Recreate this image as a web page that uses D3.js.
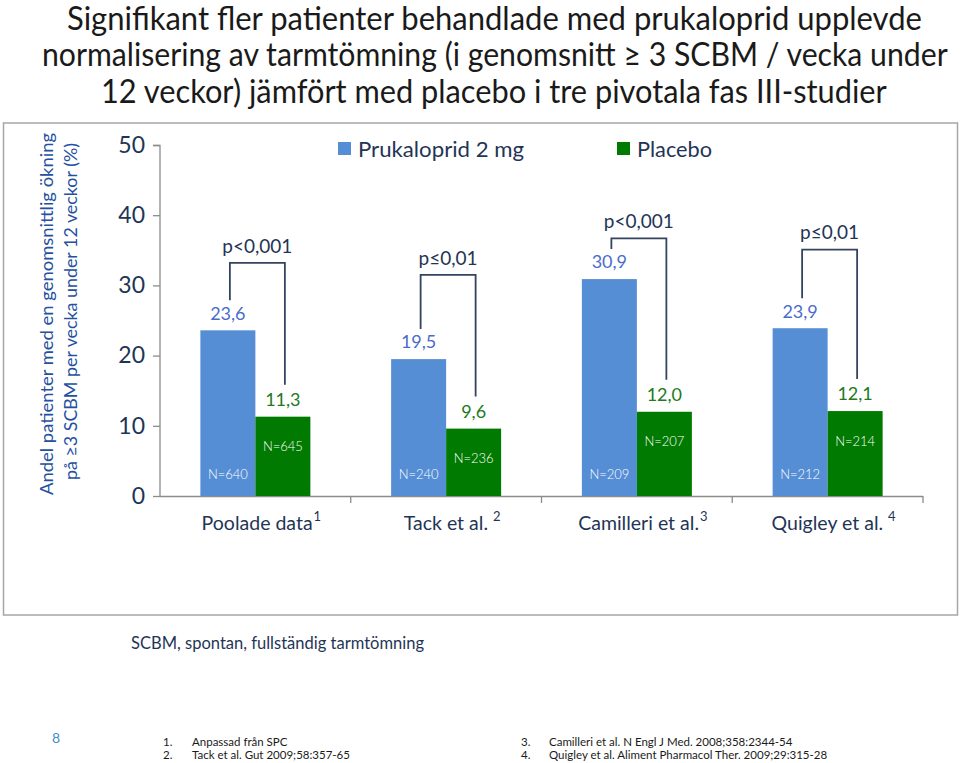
<!DOCTYPE html>
<html><head><meta charset="utf-8">
<script src="https://cdn.jsdelivr.net/npm/d3@7"></script>
<style>
html,body{margin:0;padding:0;background:#fff;}
svg{display:block;font-family:Lato,"Open Sans",sans-serif;}
</style></head>
<body>
<svg id="c" width="960" height="763"></svg>
<script>
// ---- data ----
const categories = ["Poolade data", "Tack et al.", "Camilleri et al.", "Quigley et al."];
const superscripts = ["1", "2", "3", "4"];
const seriesNames = ["Prukaloprid 2 mg", "Placebo"];
const prukalopridValues = [23.6, 19.5, 30.9, 23.9];
const placeboValues = [11.3, 9.6, 12.0, 12.1];
const prukalopridN = ["N=640", "N=240", "N=209", "N=212"];
const placeboN = ["N=645", "N=236", "N=207", "N=214"];
const pValues = ["p<0,001", "p\u22640,01", "p<0,001", "p\u22640,01"];
const bracketLevels = [33.2, 31.5, 36.7, 35.1];
const yTicks = [0, 10, 20, 30, 40, 50];
const titleLines = [
  "Signifikant fler patienter behandlade med prukaloprid upplevde",
  "normalisering av tarmtömning (i genomsnitt \u2265 3 SCBM / vecka under",
  "12 veckor) jämfört med placebo i tre pivotala fas III-studier"
];
const yLabelLines = ["Andel patienter med en genomsnittlig ökning", "på \u22653 SCBM per vecka under 12 veckor (%)"];
const footnote = "SCBM, spontan, fullständig tarmtömning";
const pageNumber = "8";
const refsLeft = [["1.", "Anpassad från SPC"], ["2.", "Tack et al. Gut 2009;58:357-65"]];
const refsRight = [["3.", "Camilleri et al. N Engl J Med. 2008;358:2344-54"], ["4.", "Quigley et al. Aliment Pharmacol Ther. 2009;29:315-28"]];

// ---- styling ----
const blue = "#558ED5", green = "#007A00";
const blueText = "#4A6CCB", greenText = "#217A21";
const navy = "#1F3556";

const svg = d3.select("#c");

// Title (horizontally condensed via a scale transform to mimic the narrow original face)
const titleY = [30, 66, 103];
const titleW = [855, 906, 786];
const titleX = [67, 42, 101];
titleLines.forEach((t, i) => {
  const el = svg.append("text").attr("x", 0).attr("y", 0)
    .attr("font-size", 32).attr("fill", "#1a1a1a").text(t);
  const nat = el.node().getComputedTextLength();
  const s = titleW[i] / nat;
  el.attr("transform", `translate(${titleX[i]},${titleY[i]}) scale(${s},1)`);
});

// Frame
svg.append("rect").attr("x", 3.5).attr("y", 123).attr("width", 954).attr("height", 492)
  .attr("fill", "none").attr("stroke", "#a6a6a6").attr("stroke-width", 1.5);

// Scales
const x0 = d3.scaleBand().domain(categories).range([160, 923]).paddingInner(0).paddingOuter(0);
const y = d3.scaleLinear().domain([0, 50]).range([496, 145]);
const barW = 55;

// Y axis
const yAxis = svg.append("g").attr("transform", "translate(160,0)")
  .call(d3.axisLeft(y).tickValues(yTicks).tickSize(7).tickPadding(8));
yAxis.select(".domain").attr("stroke", "#8c8c8c").attr("stroke-width", 1.3).attr("d", "M-7,145.5H0V496.5");
yAxis.selectAll(".tick line").attr("stroke", "#8c8c8c").attr("stroke-width", 1.3);
yAxis.selectAll(".tick text").attr("font-size", 23).attr("fill", navy).attr("font-family", "Lato, sans-serif");

// X axis
const xAxis = svg.append("g").attr("transform", "translate(0,496)");
xAxis.append("line").attr("x1", 160).attr("x2", 923).attr("y1", 0.5).attr("y2", 0.5)
  .attr("stroke", "#8c8c8c").attr("stroke-width", 1.3);
const bounds = categories.map(c => x0(c) + x0.bandwidth());
xAxis.selectAll("line.tk").data(bounds).join("line").attr("class", "tk")
  .attr("x1", d => d).attr("x2", d => d).attr("y1", 0).attr("y2", 7)
  .attr("stroke", "#8c8c8c").attr("stroke-width", 1.3);

// Category labels
categories.forEach((c, i) => {
  const cx = x0(c) + x0.bandwidth() / 2 + 6;
  const t = svg.append("text").attr("x", cx).attr("y", 530).attr("text-anchor", "middle")
    .attr("font-size", 19.5).attr("fill", navy);
  t.append("tspan").text(c);
  t.append("tspan").attr("dx", (i === 1 || i === 3) ? 5 : 1).attr("dy", -9).attr("font-size", 13).text(superscripts[i]);
});

// Bars
const data = categories.map((c, i) => ({c, i, p: prukalopridValues[i], q: placeboValues[i]}));
const cxOf = d => x0(d.c) + x0.bandwidth() / 2;

svg.selectAll("rect.bp").data(data).join("rect").attr("class", "bp")
  .attr("x", d => cxOf(d) - barW).attr("width", barW)
  .attr("y", d => y(d.p)).attr("height", d => y(0) - y(d.p)).attr("fill", blue);
svg.selectAll("rect.bq").data(data).join("rect").attr("class", "bq")
  .attr("x", d => cxOf(d)).attr("width", barW)
  .attr("y", d => y(d.q)).attr("height", d => y(0) - y(d.q)).attr("fill", green);

// Value labels
const fmt = v => d3.format(".1f")(v).replace(".", ",");
svg.selectAll("text.vp").data(data).join("text").attr("class", "vp")
  .attr("x", d => cxOf(d) - barW / 2).attr("y", d => y(d.p) - 17).attr("dy", "0.35em")
  .attr("text-anchor", "middle").attr("font-size", 18).attr("fill", blueText).text(d => fmt(d.p));
svg.selectAll("text.vq").data(data).join("text").attr("class", "vq")
  .attr("x", d => cxOf(d) + barW / 2).attr("y", d => y(d.q) - 17).attr("dy", "0.35em")
  .attr("text-anchor", "middle").attr("font-size", 18).attr("fill", greenText).text(d => fmt(d.q));

// N labels
svg.selectAll("text.np").data(data).join("text").attr("class", "np")
  .attr("x", d => cxOf(d) - barW / 2).attr("y", 474).attr("dy", "0.35em")
  .attr("text-anchor", "middle").attr("font-size", 13).attr("font-weight", 300).attr("fill", "#fff").text(d => prukalopridN[d.i]);
svg.selectAll("text.nq").data(data).join("text").attr("class", "nq")
  .attr("x", d => cxOf(d) + barW / 2).attr("y", d => y(d.q) + 30).attr("dy", "0.35em")
  .attr("text-anchor", "middle").attr("font-size", 13).attr("font-weight", 300).attr("fill", "#fff").text(d => placeboN[d.i]);

// Brackets
svg.selectAll("path.br").data(data).join("path").attr("class", "br")
  .attr("fill", "none").attr("stroke", "#34445e").attr("stroke-width", 1.8)
  .attr("d", d => {
    const lx = cxOf(d) - barW / 2 + 2, rx = cxOf(d) + barW / 2 + 2;
    const top = y(bracketLevels[d.i]);
    const lb = y(d.p) - 30, rb = y(d.q) - 32;
    return `M${lx},${lb}V${top}H${rx}V${rb}`;
  });
svg.selectAll("text.pv").data(data).join("text").attr("class", "pv")
  .attr("x", d => cxOf(d) + 2).attr("y", d => y(bracketLevels[d.i]) - 17).attr("dy", "0.35em")
  .attr("text-anchor", "middle").attr("font-size", 19).attr("fill", navy).text(d => pValues[d.i]);

// Legend
const legend = [{name: seriesNames[0], color: blue, x: 338, w: 166}, {name: seriesNames[1], color: green, x: 617, w: 75}];
legend.forEach(l => {
  svg.append("rect").attr("x", l.x).attr("y", 142).attr("width", 13).attr("height", 13).attr("fill", l.color);
  svg.append("text").attr("x", l.x + 20).attr("y", 157).attr("font-size", 22).attr("fill", navy)
    .attr("textLength", l.w).attr("lengthAdjust", "spacingAndGlyphs").text(l.name);
});

// Y label
yLabelLines.forEach((t, i) => {
  svg.append("text").attr("transform", `translate(${53 + i * 24},${i === 0 ? 314 : 311.5}) rotate(-90)`)
    .attr("text-anchor", "middle").attr("font-size", 17.5).attr("fill", "#2450A0")
    .attr("textLength", i === 0 ? 362 : 337).attr("lengthAdjust", "spacingAndGlyphs").text(t);
});

// Footnote
svg.append("text").attr("x", 131).attr("y", 649).attr("font-size", 17).attr("fill", navy)
  .attr("textLength", 293).attr("lengthAdjust", "spacingAndGlyphs").text(footnote);

// Page number
svg.append("text").attr("x", 52).attr("y", 743).attr("font-size", 14).attr("fill", "#3E8FC8").text(pageNumber);

// References
const refRow = (arr, xn, xt) => arr.forEach((r, i) => {
  svg.append("text").attr("x", xn).attr("y", 746 + i * 13).attr("font-size", 11.5).attr("fill", "#1a1a1a").text(r[0]);
  svg.append("text").attr("x", xt).attr("y", 746 + i * 13).attr("font-size", 11.5).attr("fill", "#1a1a1a").text(r[1]);
});
refRow(refsLeft, 163, 192);
refRow(refsRight, 521, 549);
</script>
</body></html>
